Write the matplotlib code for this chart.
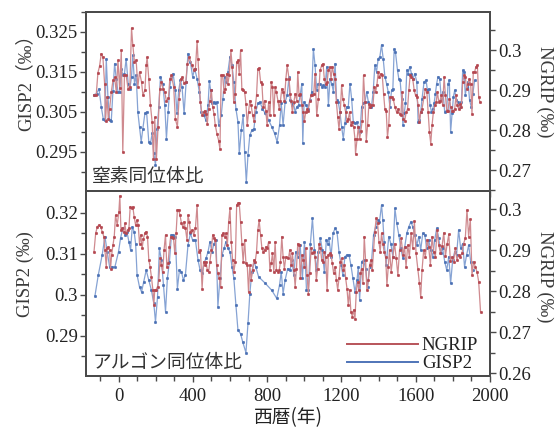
import matplotlib
matplotlib.use("Agg")
import matplotlib.pyplot as plt
from matplotlib.ticker import FixedLocator, FuncFormatter, MultipleLocator

# ---- data ---------------------------------------------------------------
# upper panel: nitrogen isotope ratio
n2_years_ngrip = [
    -132, -120, -111, -102, -93, -84, -75, -70, -62, -55, -48, -39, -30, -21, -12, -3, 6, 15, 23, 32,
    41, 52, 61, 70, 77, 86, 95, 104, 113, 124, 131, 142, 149, 154, 163, 172, 181, 188, 195, 204,
    213, 222, 231, 240, 249, 258, 269, 276, 285, 297, 306, 317, 326, 335, 344, 353, 362, 371, 380,
    396, 405, 414, 423, 428, 435, 441, 450, 458, 464, 471, 478, 485, 492, 500, 507, 514, 521, 530, 539,
    546, 553, 560, 568, 575, 582, 589, 596, 605, 612, 620, 629, 636, 643, 650, 657, 664, 671, 679, 686,
    693, 700, 707, 714, 722, 729, 736, 743, 750, 757, 765, 772, 779, 786, 793, 800, 808, 815, 822, 829,
    836, 843, 850, 858, 865, 872, 879, 886, 893, 901, 908,
    918, 924, 929, 936, 944, 951, 960, 965, 972, 979, 987, 994, 1001, 1008, 1015, 1022, 1029, 1037, 1044, 1051,
    1058, 1067, 1076, 1085, 1094, 1101, 1108, 1115, 1123, 1130, 1137, 1144, 1151, 1158, 1166, 1173, 1180, 1187, 1194, 1201,
    1208, 1216, 1223, 1230, 1237, 1244, 1251, 1259, 1266, 1273, 1276, 1284, 1291, 1298, 1305, 1312, 1319, 1327, 1334, 1341,
    1348, 1355, 1362, 1370, 1377, 1384, 1391, 1398, 1405, 1413, 1420, 1427, 1434, 1441, 1448, 1455,
    1461, 1470, 1479, 1488, 1497, 1506, 1513, 1520, 1527, 1534, 1541, 1549, 1556, 1563, 1570, 1577, 1584, 1592, 1599, 1606,
    1613, 1620, 1627, 1634, 1645, 1652, 1660, 1667, 1674, 1681, 1688, 1695, 1703, 1710, 1717, 1724, 1731, 1738, 1745, 1753,
    1760, 1767, 1774, 1781, 1788, 1796, 1803, 1810, 1817, 1824, 1831, 1839, 1846, 1853, 1860, 1867, 1874, 1882, 1889, 1896,
    1903, 1910, 1917, 1924, 1932, 1939, 1946]
n2_ngrip = [
    0.2887, 0.2888, 0.2943, 0.2960, 0.2991, 0.2982, 0.2916, 0.2824, 0.2883, 0.2828, 0.2853, 0.2895, 0.2924, 0.2932, 0.2895, 0.2974, 0.2905, 0.2999, 0.2745, 0.2938,
    0.2937, 0.2902, 0.2908, 0.3055, 0.3012, 0.2970, 0.2974, 0.2908, 0.2945, 0.2920, 0.2888, 0.2899, 0.2962, 0.2982, 0.2928, 0.2862, 0.2820, 0.2728, 0.2832, 0.2728,
    0.2808, 0.2902, 0.2920, 0.2902, 0.2895, 0.2872, 0.2880, 0.2928, 0.2937, 0.2908, 0.2828, 0.2808, 0.2877, 0.2928, 0.2932, 0.2918, 0.2920, 0.2966, 0.2982,
    0.2962, 0.2949, 0.2953, 0.3022, 0.2978, 0.2916, 0.2870, 0.2837, 0.2845, 0.2849, 0.2841, 0.2816, 0.2853, 0.2874, 0.2899, 0.2857, 0.2841, 0.2812, 0.2791, 0.2774,
    0.2753, 0.2937, 0.2938, 0.2895, 0.2903, 0.2941, 0.2916, 0.2937, 0.2999, 0.2958, 0.2870, 0.2891, 0.2970, 0.2974, 0.2941, 0.2999, 0.2903, 0.2899, 0.2895, 0.2866,
    0.2812, 0.2845, 0.2874, 0.2862, 0.2837, 0.2824, 0.2857, 0.2887, 0.2953, 0.2955, 0.2920, 0.2916, 0.2857, 0.2874, 0.2849, 0.2812, 0.2870, 0.2837, 0.2920, 0.2908,
    0.2837, 0.2908, 0.2895, 0.2874, 0.2853, 0.2874, 0.2903, 0.2895, 0.2874, 0.2928, 0.2962,
    0.2928, 0.2891, 0.2874, 0.2845, 0.2870, 0.2891, 0.2874, 0.2945, 0.2887, 0.2891, 0.2862, 0.2845, 0.2824, 0.2845, 0.2853, 0.2849, 0.2874, 0.2887, 0.2887, 0.2891,
    0.2941, 0.2837, 0.2878, 0.2949, 0.2962, 0.2966, 0.2928, 0.2916, 0.2920, 0.2949, 0.2958, 0.2928, 0.2958, 0.2941, 0.2928, 0.2870, 0.2833, 0.2803, 0.2845, 0.2912,
    0.2878, 0.2862, 0.2845, 0.2824, 0.2828, 0.2845, 0.2812, 0.2820, 0.2808, 0.2778, 0.2741, 0.2778, 0.2808, 0.2778, 0.2799, 0.2824, 0.2937, 0.2870, 0.2774, 0.2812,
    0.2866, 0.2858, 0.2862, 0.2862, 0.2908, 0.2895, 0.2912, 0.2945, 0.2933, 0.2941, 0.2937, 0.2891, 0.2853, 0.2849, 0.2783, 0.2812,
    0.2883, 0.2883, 0.2878, 0.2858, 0.2845, 0.2853, 0.2841, 0.2837, 0.2895, 0.2828, 0.2824, 0.2845, 0.2853, 0.2899, 0.2937, 0.2933, 0.2928, 0.2899, 0.2887, 0.2883,
    0.2862, 0.2820, 0.2845, 0.2853, 0.2883, 0.2903, 0.2895, 0.2845, 0.2795, 0.2766, 0.2812, 0.2845, 0.2862, 0.2870, 0.2895, 0.2870, 0.2874, 0.2887, 0.2862, 0.2933,
    0.2887, 0.2849, 0.2849, 0.2878, 0.2858, 0.2849, 0.2849, 0.2853, 0.2887, 0.2862, 0.2853, 0.2866, 0.2858, 0.2920, 0.2937, 0.2933, 0.2903, 0.2916, 0.2928, 0.2916,
    0.2841, 0.2945, 0.2945, 0.2958, 0.2962, 0.2883, 0.2870]

n2_years_gisp2 = [
    -132, -118, -105, -93, -82, -73, -66, -57, -48, -39, -30, -21, -12, -3, 6, 15, 23, 32, 41, 52,
    61, 70, 77, 86, 95, 104, 113, 122, 131, 142, 151, 163, 172, 181, 190, 199, 208, 217, 226, 238,
    249, 258, 267, 276, 285, 294, 306, 315, 324, 333, 342, 353, 364, 374,
    387, 399, 410, 423, 435, 446, 458, 471, 482, 489, 496, 503, 512, 521, 530, 539, 553, 562, 571, 580,
    589, 600, 611, 621, 632, 643, 650, 661, 671, 679, 688, 697, 707, 718, 729, 739, 750, 761, 775, 790,
    808, 825, 840, 854, 867, 876, 886, 897, 908, 918,
    924, 933, 942, 951, 960, 969, 978, 987, 992, 999, 1008, 1019, 1031, 1040, 1049, 1058, 1067, 1076, 1085, 1094,
    1103, 1112, 1121, 1130, 1139, 1148, 1157, 1166, 1174, 1183, 1192, 1201, 1210, 1219, 1228, 1237, 1246, 1255, 1264, 1273,
    1282, 1291, 1300, 1309, 1318, 1327, 1336, 1345, 1353, 1362, 1371, 1380, 1389, 1398, 1407, 1416, 1425, 1434, 1443, 1452,
    1461, 1470, 1477, 1484, 1491, 1502, 1509, 1516, 1524, 1531, 1538, 1545, 1552, 1559, 1568, 1577, 1586, 1595, 1606, 1613,
    1620, 1627, 1634, 1645, 1656, 1663, 1670, 1677, 1685, 1692, 1699, 1706, 1713, 1720, 1729, 1738, 1747, 1756, 1767, 1774,
    1781, 1788, 1796, 1803, 1810, 1819, 1828, 1839, 1846, 1853, 1860, 1867, 1874, 1882, 1890, 1899, 1908, 1917]
n2_gisp2 = [
    0.3093, 0.3096, 0.3108, 0.3063, 0.3032, 0.3029, 0.3183, 0.3088, 0.3029, 0.3027, 0.3102, 0.3171, 0.3133, 0.3100, 0.3100, 0.3158, 0.3142, 0.3146, 0.3183, 0.3121,
    0.3108, 0.3138, 0.3192, 0.3121, 0.3142, 0.3050, 0.3013, 0.2975, 0.3008, 0.3046, 0.3050, 0.2975, 0.2971, 0.2996, 0.2946, 0.2917, 0.3008, 0.3063, 0.3138, 0.3121,
    0.3067, 0.2983, 0.3050, 0.3113, 0.3138, 0.3146, 0.3104, 0.3046, 0.3104, 0.3129, 0.3113, 0.3046, 0.3125, 0.3196,
    0.3175, 0.3138, 0.3158, 0.3133, 0.3100, 0.3050, 0.3042, 0.3029, 0.3067, 0.3127, 0.3104, 0.3071, 0.3075, 0.3071, 0.3075, 0.3017, 0.3042, 0.3083, 0.3138, 0.3125,
    0.3150, 0.3188, 0.3167, 0.3125, 0.3058, 0.3025, 0.2946, 0.3004, 0.3042, 0.2950, 0.2875, 0.2942, 0.2992, 0.3004, 0.3008, 0.3050, 0.3071, 0.3075, 0.3058, 0.3046,
    0.3029, 0.3013, 0.2996, 0.2975, 0.3017, 0.3071, 0.3017, 0.3075, 0.3092, 0.3138,
    0.3079, 0.3067, 0.3071, 0.3050, 0.3063, 0.3067, 0.3092, 0.3121, 0.2971, 0.3075, 0.3067, 0.3058, 0.3079, 0.3100, 0.3207, 0.3167, 0.3104, 0.3121, 0.3121, 0.3113,
    0.3117, 0.3113, 0.3163, 0.3067, 0.3133, 0.3121, 0.3100, 0.3171, 0.3079, 0.3075, 0.3050, 0.3013, 0.2983, 0.3021, 0.3063, 0.3063, 0.3121, 0.3083, 0.3025, 0.3021,
    0.3025, 0.3013, 0.3000, 0.3063, 0.3071, 0.3075, 0.3100, 0.3075, 0.3063, 0.3063, 0.3100, 0.3167, 0.3150, 0.3183, 0.3188, 0.3218, 0.3183, 0.3138, 0.3121, 0.3100,
    0.3063, 0.3104, 0.3108, 0.3207, 0.3200, 0.3154, 0.3133, 0.3129, 0.3083, 0.3017, 0.3046, 0.3071, 0.3154, 0.3146, 0.3163, 0.3146, 0.3133, 0.3146, 0.3125, 0.3025,
    0.3029, 0.3050, 0.3083, 0.3125, 0.3129, 0.3104, 0.3108, 0.3067, 0.3050, 0.3058, 0.3071, 0.3096, 0.3121, 0.3138, 0.3133, 0.3083, 0.3100, 0.3050, 0.3054, 0.3121,
    0.3129, 0.3000, 0.3046, 0.3088, 0.3104, 0.3079, 0.3075, 0.3063, 0.3075, 0.3154, 0.3150, 0.3092, 0.3113, 0.3125, 0.3079, 0.3063, 0.3096, 0.3129]

# lower panel: argon isotope ratio
ar_years_ngrip = [
    -132, -123, -114, -105, -96, -88, -79, -73, -66, -61, -55, -48, -43, -37, -30, -23, -16, -7, 2, 7,
    13, 20, 29, 34, 41, 49, 56, 63, 70, 77, 84, 92, 99, 106, 113, 120, 127, 134, 142, 149,
    156, 163, 170, 177, 185, 190, 195, 202, 210, 217, 224, 231, 238, 245, 253, 260, 267, 274, 281, 288,
    296, 303, 310, 317, 324, 331, 339, 346, 353, 360,
    369, 374, 381, 387, 396, 405, 414, 423, 432, 441, 450, 458, 464, 471, 478, 485, 492, 500, 507, 514,
    521, 528, 535, 543, 550, 557, 564, 571, 578, 586, 593, 600, 607, 614, 621, 629, 636, 643, 650, 657,
    664, 671, 679, 686, 693, 700, 707, 714, 722, 729, 736, 743, 750, 757, 765, 772, 779, 786, 793, 800,
    808, 815, 822, 829, 836, 843, 850, 858, 865, 872, 879, 886, 893, 901,
    915, 922, 929, 936, 944, 951, 958, 965, 972, 979, 987, 994, 1001, 1008, 1015, 1022, 1029, 1037, 1044, 1051,
    1058, 1065, 1072, 1080, 1087, 1094, 1101, 1108, 1115, 1123, 1130, 1137, 1144, 1151, 1158, 1166, 1173, 1180, 1187, 1194,
    1201, 1208, 1216, 1223, 1230, 1237, 1244, 1251, 1259, 1266, 1273, 1280, 1287, 1294, 1302, 1309, 1316, 1323, 1330, 1337,
    1345, 1352, 1359, 1366, 1373, 1380, 1387, 1395, 1402, 1409, 1416, 1423, 1430, 1438, 1445, 1452,
    1459, 1468, 1477, 1486, 1495, 1504, 1513, 1522, 1531, 1540, 1548, 1557, 1566, 1575, 1584, 1593, 1602, 1611, 1620, 1627,
    1634, 1643, 1652, 1661, 1670, 1679, 1688, 1697, 1706, 1715, 1724, 1733, 1742, 1751, 1760, 1769, 1778, 1787, 1796, 1804,
    1813, 1822, 1831, 1840, 1849, 1858, 1867, 1876, 1885, 1894, 1903, 1912, 1921, 1930, 1939, 1949]
ar_ngrip = [
    0.2896, 0.2941, 0.2957, 0.2961, 0.2957, 0.2945, 0.2933, 0.2900, 0.2859, 0.2904, 0.2908, 0.2900, 0.2855, 0.2888, 0.2912, 0.2933, 0.2985, 0.2961, 0.2994, 0.3032,
    0.2949, 0.2953, 0.2945, 0.2965, 0.2941, 0.2949, 0.2953, 0.3006, 0.3002, 0.3006, 0.2981, 0.2961, 0.2973, 0.2961, 0.2916, 0.2937, 0.2904, 0.2928, 0.2941, 0.2945,
    0.2933, 0.2876, 0.2859, 0.2835, 0.2803, 0.2766, 0.2803, 0.2803, 0.2811, 0.2827, 0.2880, 0.2864, 0.2847, 0.2900, 0.2937, 0.2859, 0.2868, 0.2908, 0.2933, 0.2933,
    0.2929, 0.2892, 0.2941, 0.2998, 0.2998, 0.2985, 0.2965, 0.2957, 0.2969, 0.2953,
    0.2924, 0.2985, 0.2969, 0.2945, 0.2949, 0.2937, 0.2953, 0.3010, 0.2896, 0.2900, 0.2806, 0.2872, 0.2863, 0.2872, 0.2851, 0.2847, 0.2872, 0.2900, 0.2937, 0.2929,
    0.2924, 0.2863, 0.2843, 0.2831, 0.2811, 0.2937, 0.2941, 0.2933, 0.2941, 0.2912, 0.2969, 0.3002, 0.2920, 0.2876, 0.2847, 0.2872, 0.3010, 0.3014, 0.3014, 0.2969,
    0.2916, 0.2872, 0.2924, 0.2868, 0.2864, 0.2798, 0.2864, 0.2827, 0.2851, 0.2876, 0.2872, 0.2896, 0.2949, 0.2973, 0.2937, 0.2904, 0.2896, 0.2900, 0.2908, 0.2904,
    0.2920, 0.2851, 0.2868, 0.2892, 0.2847, 0.2920, 0.2851, 0.2847, 0.2851, 0.2872, 0.2933, 0.2884, 0.2855, 0.2884,
    0.2880, 0.2900, 0.2863, 0.2892, 0.2851, 0.2811, 0.2855, 0.2916, 0.2912, 0.2831, 0.2888, 0.2876, 0.2859, 0.2904, 0.2839, 0.2794, 0.2843, 0.2904, 0.2892, 0.2896,
    0.2884, 0.2827, 0.2855, 0.2916, 0.2904, 0.2876, 0.2872, 0.2896, 0.2884, 0.2803, 0.2888, 0.2892, 0.2888, 0.2868, 0.2843, 0.2859, 0.2827, 0.2803, 0.2831, 0.2872,
    0.2880, 0.2851, 0.2864, 0.2831, 0.2806, 0.2766, 0.2803, 0.2750, 0.2738, 0.2754, 0.2733, 0.2798, 0.2823, 0.2803, 0.2843, 0.2855, 0.2819, 0.2933, 0.2876, 0.2803,
    0.2827, 0.2864, 0.2876, 0.2851, 0.2900, 0.2945, 0.2977, 0.2965, 0.2920, 0.2896, 0.2941, 0.2916, 0.2896, 0.2884, 0.2815, 0.2859,
    0.2900, 0.2847, 0.2884, 0.2916, 0.2880, 0.2839, 0.2900, 0.2929, 0.2888, 0.2908, 0.2859, 0.2912, 0.2884, 0.2941, 0.2904, 0.2970, 0.2892, 0.2855, 0.2819, 0.2785,
    0.2851, 0.2900, 0.2884, 0.2925, 0.2908, 0.2864, 0.2933, 0.2896, 0.2884, 0.2949, 0.2912, 0.2894, 0.2910, 0.2942, 0.2885, 0.2914, 0.2938, 0.2873, 0.2884, 0.2872,
    0.2905, 0.2876, 0.2888, 0.2884, 0.2892, 0.2916, 0.2929, 0.2998, 0.2933, 0.2975, 0.2839, 0.2872, 0.2859, 0.2847, 0.2823, 0.2750]

ar_years_gisp2 = [
    -127, -109, -88, -73, -61, -48, -34, -20, 0, 11, 23, 34, 45, 56, 65, 74, 84, 92, 100, 113,
    124, 136, 149, 163, 177, 190, 199, 210, 220, 231, 242, 253, 263, 274, 285, 296, 306, 317, 328, 339,
    349, 360,
    374, 387, 399, 414, 428, 439, 450, 460, 471, 482, 492, 503, 514, 525, 535, 546, 557, 568, 578, 589,
    600, 611, 621, 632, 643, 657, 668, 686, 697, 707, 718, 729, 739, 754, 790, 825, 852, 867, 876, 886,
    897, 911,
    924, 933, 944, 954, 965, 978, 990, 1001, 1012, 1022, 1033, 1044, 1055, 1065, 1076, 1087, 1097, 1108, 1119, 1126,
    1133, 1144, 1155, 1166, 1176, 1187, 1198, 1208, 1219, 1230, 1241, 1251, 1262, 1273, 1284, 1291, 1298, 1309, 1319, 1330,
    1341, 1352, 1362, 1373, 1384, 1395, 1405, 1416, 1423, 1430, 1441,
    1455, 1466, 1477, 1488, 1498, 1509, 1520, 1531, 1541, 1552, 1563, 1574, 1584, 1595, 1606, 1617, 1627, 1638, 1649, 1659,
    1670, 1681, 1692, 1702, 1713, 1724, 1735, 1745, 1756, 1767, 1778, 1788, 1799, 1810, 1820, 1831, 1842, 1853, 1863, 1874,
    1885, 1896, 1906]
ar_gisp2 = [
    0.2997, 0.3048, 0.3097, 0.3142, 0.3105, 0.3068, 0.3068, 0.3067, 0.3105, 0.3138, 0.3162, 0.3146, 0.3154, 0.3129, 0.3109, 0.3166, 0.3154, 0.3125, 0.3048, 0.3019,
    0.3007, 0.3032, 0.3060, 0.3036, 0.3011, 0.2979, 0.2934, 0.2995, 0.3113, 0.3085, 0.3024, 0.2959, 0.3040, 0.3080, 0.3146, 0.3146, 0.3141, 0.3015, 0.3060, 0.3056,
    0.3036, 0.3048,
    0.3121, 0.3150, 0.3133, 0.3133, 0.3085, 0.3060, 0.3052, 0.3077, 0.3089, 0.3105, 0.3129, 0.3105, 0.3125, 0.3133, 0.2971, 0.3040, 0.3097, 0.3113, 0.3129, 0.3113,
    0.3105, 0.3068, 0.3040, 0.2975, 0.2914, 0.2905, 0.2886, 0.2859, 0.2930, 0.3003, 0.3056, 0.3081, 0.3068, 0.3044, 0.3028, 0.3011, 0.2991, 0.3024, 0.3056, 0.3003,
    0.3036, 0.3064,
    0.3060, 0.3085, 0.3048, 0.3105, 0.3093, 0.3121, 0.3040, 0.3129, 0.3011, 0.3011, 0.3125, 0.3186, 0.3109, 0.3060, 0.3105, 0.3138, 0.3109, 0.3056, 0.3134, 0.3125,
    0.3138, 0.3093, 0.3150, 0.3162, 0.3154, 0.3105, 0.3073, 0.3048, 0.3093, 0.3097, 0.3097, 0.3073, 0.3040, 0.3007, 0.3035, 0.3068, 0.2987, 0.3081, 0.3085, 0.3064,
    0.3019, 0.3068, 0.3080, 0.3146, 0.3166, 0.3182, 0.3178, 0.3219, 0.3182, 0.3129, 0.3073,
    0.3142, 0.3125, 0.3093, 0.3211, 0.3174, 0.3146, 0.3113, 0.3089, 0.3117, 0.3150, 0.3166, 0.3178, 0.3166, 0.3146, 0.3121, 0.3142, 0.3109, 0.3150, 0.3146, 0.3113,
    0.3133, 0.3109, 0.3093, 0.3133, 0.3162, 0.3138, 0.3101, 0.3113, 0.3081, 0.3060, 0.3093, 0.3028, 0.3085, 0.3105, 0.3097, 0.3158, 0.3113, 0.3125, 0.3068, 0.3097,
    0.3121, 0.3081, 0.3060]

x_ticks = [0, 400, 800, 1200, 1600, 2000]

# ---- styling ------------------------------------------------------------
RED_LINE, RED_DOT = "#cf8a8f", "#b4464f"
BLUE_LINE, BLUE_DOT = "#86a3d4", "#4a70b4"
FRAME = "#4a4a4a"
TXT = "#222222"
SERIF = ["Liberation Serif", "Noto Sans CJK JP"]
CJK = ["Noto Sans CJK JP", "DejaVu Sans"]
FS = 13.5

plt.rcParams["font.family"] = SERIF

fig = plt.figure(figsize=(5.56, 4.30), dpi=100)
fig.patch.set_facecolor("white")
ax_top = fig.add_axes([0.1547, 0.5558, 0.7266, 0.4163])
ax_bot = fig.add_axes([0.1547, 0.1256, 0.7266, 0.4302])
ax_top_r = ax_top.twinx()
ax_bot_r = ax_bot.twinx()

fmt = FuncFormatter(lambda v, p: f"{v:g}")


def series(ax, x, y, line_c, dot_c):
    ax.plot(x, y, color=line_c, lw=0.9, zorder=2)
    ax.plot(x, y, "o", ms=1.9, color=dot_c, mec=dot_c, mew=0.3, zorder=3)


series(ax_top, n2_years_gisp2, n2_gisp2, BLUE_LINE, BLUE_DOT)
series(ax_top_r, n2_years_ngrip, n2_ngrip, RED_LINE, RED_DOT)
series(ax_bot, ar_years_gisp2, ar_gisp2, BLUE_LINE, BLUE_DOT)
series(ax_bot_r, ar_years_ngrip, ar_ngrip, RED_LINE, RED_DOT)

ax_top.set_ylim(0.2852, 0.330)
ax_top_r.set_ylim(0.2648, 0.3095)
ax_bot.set_ylim(0.2802, 0.3253)
ax_bot_r.set_ylim(0.2593, 0.3044)

ax_top.yaxis.set_major_locator(FixedLocator([0.295, 0.305, 0.315, 0.325]))
ax_top.yaxis.set_minor_locator(FixedLocator([0.29, 0.30, 0.31, 0.32, 0.33]))
ax_top_r.yaxis.set_major_locator(FixedLocator([0.27, 0.28, 0.29, 0.30]))
ax_top_r.yaxis.set_minor_locator(FixedLocator([0.265, 0.275, 0.285, 0.295, 0.305]))
ax_bot.yaxis.set_major_locator(FixedLocator([0.29, 0.30, 0.31, 0.32]))
ax_bot.yaxis.set_minor_locator(FixedLocator([0.285, 0.295, 0.305, 0.315]))
ax_bot_r.yaxis.set_major_locator(FixedLocator([0.26, 0.27, 0.28, 0.29, 0.30]))
ax_bot_r.yaxis.set_minor_locator(FixedLocator([0.265, 0.275, 0.285, 0.295]))

for ax in (ax_top, ax_bot):
    ax.set_xlim(-175, 2000)
    ax.xaxis.set_major_locator(FixedLocator(x_ticks))
    ax.xaxis.set_minor_locator(MultipleLocator(100))

for ax in (ax_top, ax_top_r, ax_bot, ax_bot_r):
    ax.yaxis.set_major_formatter(fmt)
    ax.tick_params(which="both", direction="out", colors=FRAME, labelcolor=TXT,
                   labelsize=FS, width=1.0, pad=2)
    ax.tick_params(which="major", length=4)
    ax.tick_params(which="minor", length=3.5)
    for s in ax.spines.values():
        s.set_color(FRAME)
        s.set_linewidth(1.3)

ax_top.tick_params(axis="x", labelbottom=False)
ax_bot.tick_params(axis="x", pad=5)

# axis labels
ax_top.set_ylabel("GISP2（‰）", fontsize=FS, color="#3a3a3a", va="center")
ax_top.yaxis.set_label_coords(-0.15, 0.63)
ax_bot.set_ylabel("GISP2 (‰)", fontsize=FS, color="#3a3a3a", va="center")
ax_bot.yaxis.set_label_coords(-0.15, 0.55)
ax_top_r.set_ylabel("NGRIP (‰)", fontsize=FS, color="#3a3a3a", rotation=270, va="center")
ax_top_r.yaxis.set_label_coords(1.135, 0.556)
ax_bot_r.set_ylabel("NGRIP (‰)", fontsize=FS, color="#3a3a3a", rotation=270, va="center")
ax_bot_r.yaxis.set_label_coords(1.135, 0.538)
ax_bot.set_xlabel("西暦(年)", fontsize=FS, color=TXT, family=CJK, labelpad=1)

ax_top.text(0.014, 0.02, "窒素同位体比", transform=ax_top.transAxes, family=CJK,
            fontsize=FS, color="#333333", ha="left", va="bottom")
ax_bot.text(0.016, 0.015, "アルゴン同位体比", transform=ax_bot.transAxes, family=CJK,
            fontsize=FS, color="#333333", ha="left", va="bottom")

# legend (lines only)
h_ng = plt.Line2D([], [], color="#b8545a", lw=1.4)
h_gi = plt.Line2D([], [], color="#4f74b8", lw=1.4)
ax_bot_r.legend([h_ng, h_gi], ["NGRIP", "GISP2"], loc="lower right",
                bbox_to_anchor=(0.98, 0.0), frameon=False, fontsize=FS,
                handlelength=3.8, handletextpad=0.2, labelspacing=0.05,
                borderaxespad=0.1, borderpad=0.1, labelcolor=TXT)

fig.savefig("out.png", dpi=100, facecolor="white")
